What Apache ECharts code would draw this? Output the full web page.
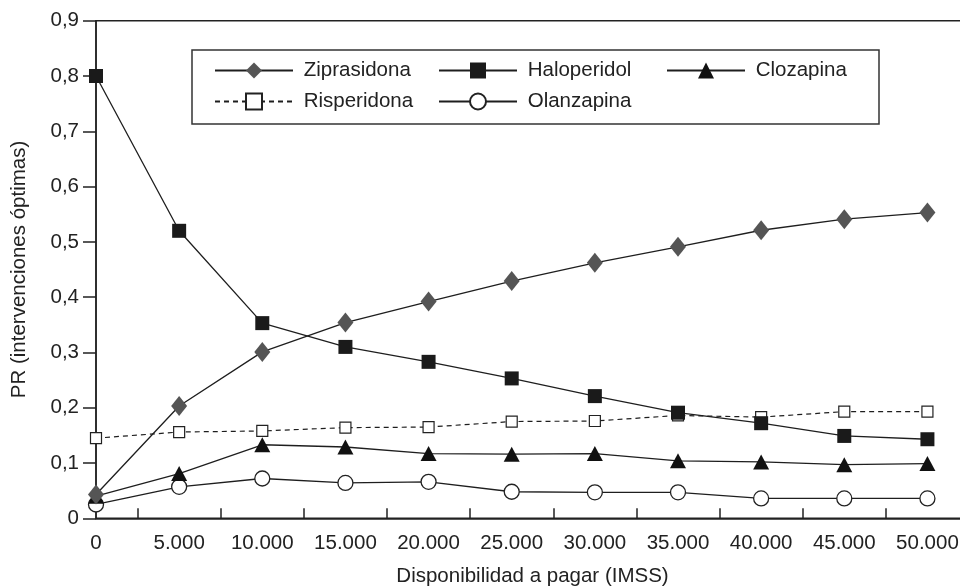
<!DOCTYPE html>
<html>
<head>
<meta charset="utf-8">
<script src="https://cdn.jsdelivr.net/npm/echarts@6/dist/echarts.min.js"></script>
<style>
html,body{margin:0;padding:0;background:#fff;}
#chart{width:960px;height:588px;}
</style>
</head>
<body>
<div id="chart"></div>
<script>
const xValues = [0, 5000, 10000, 15000, 20000, 25000, 30000, 35000, 40000, 45000, 50000];
const ziprasidona = [0.043, 0.203, 0.301, 0.354, 0.392, 0.429, 0.462, 0.491, 0.521, 0.541, 0.553];
const haloperidol = [0.800, 0.520, 0.353, 0.310, 0.283, 0.253, 0.221, 0.191, 0.172, 0.149, 0.143];
const clozapina   = [0.040, 0.081, 0.133, 0.129, 0.117, 0.116, 0.117, 0.104, 0.102, 0.097, 0.099];
const risperidona = [0.145, 0.156, 0.158, 0.164, 0.165, 0.175, 0.176, 0.186, 0.183, 0.193, 0.193];
const olanzapina  = [0.025, 0.057, 0.072, 0.064, 0.066, 0.048, 0.047, 0.047, 0.036, 0.036, 0.036];
const yTicks = [0, 0.1, 0.2, 0.3, 0.4, 0.5, 0.6, 0.7, 0.8, 0.9];
const legendCol1 = ['Ziprasidona', 'Risperidona'];
const legendCol2 = ['Haloperidol', 'Olanzapina'];
const legendCol3 = ['Clozapina'];

const FONT = 'Liberation Sans';
const FS = 20.5;
const INK = '#1e1e1e';

function pairs(arr) { return xValues.map((x, i) => [x, arr[i]]); }
function fmtX(v) {
  if (v % 5000 !== 0) return '';
  if (v === 0) return '0';
  return String(v).replace(/\B(?=(\d{3})+(?!\d))/g, '.');
}
function fmtY(v) {
  if (Math.abs(v) < 1e-9) return '0';
  return v.toFixed(1).replace('.', ',');
}
// tick-mark positions every half-step (2 500) — used only by the tick axis
const halfSteps = [];
for (let v = 0; v <= 52500; v += 2500) halfSteps.push(String(v));

// legend frame: first column's legend carries the border, padded out to the full box
const measureCtx = document.createElement('canvas').getContext('2d');
measureCtx.font = FS + 'px "' + FONT + '"';
const col1TextW = Math.max.apply(null, legendCol1.map(n => measureCtx.measureText(' ' + n).width));
const BOX_LEFT = 192, BOX_RIGHT = 878, ITEM_W = 78, PAD_L = 22;
const padRight = BOX_RIGHT - BOX_LEFT - PAD_L - (ITEM_W + 5 + col1TextW);

const legendCommon = {
  orient: 'vertical',
  itemGap: 10,
  itemWidth: ITEM_W, itemHeight: 20,
  formatter: function (name) { return ' ' + name; },
  textStyle: { fontFamily: FONT, fontSize: FS, color: '#222' }
};

const lineBase = { color: INK, width: 1.3 };

const chart = echarts.init(document.getElementById('chart'), null, { renderer: 'canvas' });
chart.setOption({
  animation: false,
  backgroundColor: '#fff',
  textStyle: { fontFamily: FONT },
  grid: {
    left: 96, top: 20.7, width: 873, bottom: 69.7,
    outerBoundsMode: 'none', containLabel: false,
    show: true, borderColor: '#222', borderWidth: 1.5, backgroundColor: 'transparent'
  },
  legend: [
    Object.assign({}, legendCommon, {
      data: legendCol1, left: BOX_LEFT, top: 50,
      padding: [10, padRight, 12, PAD_L],
      borderColor: '#333', borderWidth: 1.5
    }),
    Object.assign({}, legendCommon, { data: legendCol2, left: 438, top: 60, padding: 0 }),
    Object.assign({}, legendCommon, { data: legendCol3, left: 666, top: 60, padding: 0 })
  ],
  xAxis: [
    {
      type: 'value', min: 0, max: 52500, interval: 5000,
      name: 'Disponibilidad a pagar (IMSS)', nameLocation: 'middle', nameGap: 48,
      nameTextStyle: { fontFamily: FONT, fontSize: FS, color: '#222' },
      axisLine: { show: true, lineStyle: { color: '#222', width: 1.5 } },
      axisTick: { show: false },
      splitLine: { show: false },
      axisLabel: { formatter: fmtX, margin: 15, fontFamily: FONT, fontSize: FS, color: '#222', showMaxLabel: false }
    },
    {
      type: 'category', data: halfSteps, boundaryGap: false, position: 'bottom',
      axisLine: { show: false },
      axisLabel: { show: false },
      splitLine: { show: false },
      axisTick: { show: true, inside: true, length: 10, interval: function (i) { return i % 2 === 1; }, lineStyle: { color: '#222', width: 1.5 } }
    }
  ],
  yAxis: {
    type: 'value', min: 0, max: 0.9, interval: 0.1,
    name: 'PR (intervenciones óptimas)', nameLocation: 'middle', nameGap: 66,
    nameTextStyle: { fontFamily: FONT, fontSize: FS, color: '#222' },
    axisLine: { show: true, lineStyle: { color: '#222', width: 1.5 } },
    axisTick: { show: true, inside: false, length: 13, lineStyle: { color: '#222', width: 1.5 } },
    splitLine: { show: false },
    axisLabel: { formatter: fmtY, margin: 17, fontFamily: FONT, fontSize: FS, color: '#222' }
  },
  series: [
    {
      name: 'Risperidona', type: 'line', data: pairs(risperidona),
      symbol: 'rect', symbolSize: 11,
      lineStyle: { color: INK, width: 1.2, type: [5, 4] },
      itemStyle: { color: '#fff', borderColor: '#222', borderWidth: 1.2 }
    },
    {
      name: 'Olanzapina', type: 'line', data: pairs(olanzapina),
      symbol: 'circle', symbolSize: 15,
      lineStyle: lineBase,
      itemStyle: { color: '#fff', borderColor: '#222', borderWidth: 1.3 }
    },
    {
      name: 'Clozapina', type: 'line', data: pairs(clozapina),
      symbol: 'triangle', symbolSize: [16, 15],
      lineStyle: lineBase,
      itemStyle: { color: '#111', borderColor: '#111', borderWidth: 0 }
    },
    {
      name: 'Haloperidol', type: 'line', data: pairs(haloperidol),
      symbol: 'rect', symbolSize: 14,
      lineStyle: lineBase,
      itemStyle: { color: '#1a1a1a', borderColor: '#1a1a1a', borderWidth: 0 }
    },
    {
      name: 'Ziprasidona', type: 'line', data: pairs(ziprasidona),
      symbol: 'diamond', symbolSize: [16, 20],
      lineStyle: lineBase,
      itemStyle: { color: '#555', borderColor: '#555', borderWidth: 0 }
    }
  ]
});
</script>
</body>
</html>
